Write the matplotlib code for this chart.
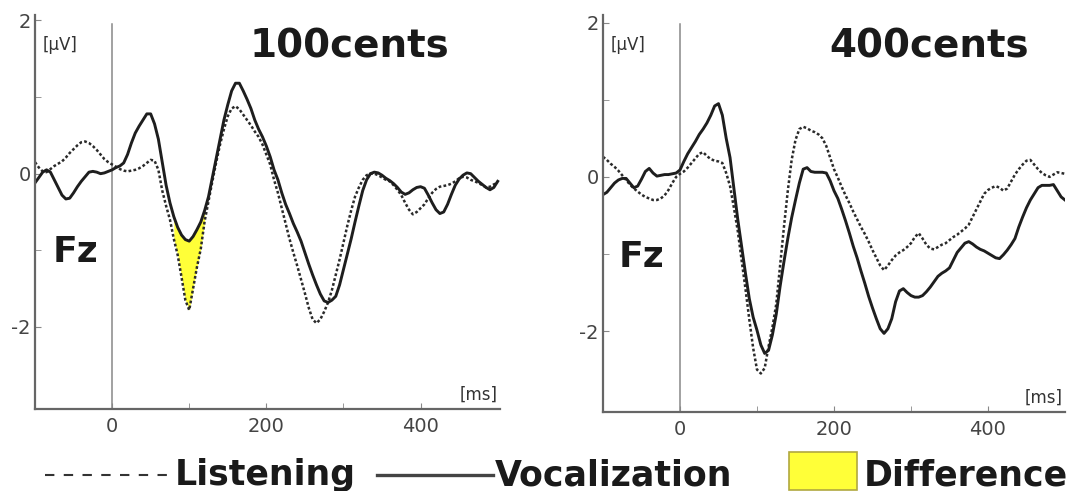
import numpy as np
import matplotlib
matplotlib.use("Agg")
import matplotlib.pyplot as plt
from matplotlib.lines import Line2D
from matplotlib.patches import Rectangle

plt.rcParams["axes.unicode_minus"] = False

# time axis in ms (5 ms steps), shared by all four traces
t = np.arange(-100, 505, 5)

# 100 cents condition, Fz, values in microvolts
lis_100 = [0.15, 0.08, 0.03, 0.02, 0.06, 0.10, 0.13, 0.16, 0.21, 0.27,
           0.32, 0.37, 0.41, 0.42, 0.40, 0.36, 0.31, 0.25, 0.19, 0.15,
           0.12, 0.09, 0.06, 0.04, 0.03, 0.04, 0.05, 0.07, 0.10, 0.14,
           0.18, 0.17, 0.05, -0.22, -0.42, -0.60, -0.85, -1.06, -1.35, -1.65,
           -1.78, -1.50, -1.22, -0.98, -0.62, -0.36, -0.10, 0.15, 0.38, 0.58,
           0.75, 0.85, 0.88, 0.84, 0.77, 0.70, 0.63, 0.55, 0.48, 0.38,
           0.25, 0.12, -0.08, -0.25, -0.45, -0.65, -0.85, -1.03, -1.20, -1.38,
           -1.56, -1.75, -1.90, -1.95, -1.90, -1.80, -1.68, -1.52, -1.32, -1.12,
           -0.90, -0.68, -0.48, -0.30, -0.18, -0.08, -0.02, 0.00, 0.00, -0.02,
           -0.05, -0.08, -0.10, -0.15, -0.21, -0.28, -0.38, -0.47, -0.53, -0.50,
           -0.45, -0.40, -0.32, -0.25, -0.20, -0.17, -0.16, -0.15, -0.13, -0.10,
           -0.06, -0.04, -0.05, -0.08, -0.10, -0.12, -0.15, -0.18, -0.17, -0.14,
           -0.12]
voc_100 = [-0.12, -0.05, 0.02, 0.05, 0.02, -0.08, -0.18, -0.28, -0.33, -0.32,
           -0.25, -0.17, -0.10, -0.04, 0.02, 0.03, 0.02, 0.00, 0.01, 0.03,
           0.05, 0.08, 0.10, 0.14, 0.25, 0.40, 0.53, 0.62, 0.70, 0.78,
           0.78, 0.65, 0.45, 0.15, -0.15, -0.38, -0.56, -0.70, -0.80, -0.86,
           -0.88, -0.82, -0.73, -0.63, -0.48, -0.30, -0.05, 0.20, 0.45, 0.70,
           0.90, 1.08, 1.18, 1.18, 1.08, 0.97, 0.85, 0.70, 0.58, 0.48,
           0.36, 0.22, 0.05, -0.08, -0.25, -0.40, -0.52, -0.65, -0.76, -0.88,
           -1.03, -1.18, -1.32, -1.45, -1.57, -1.66, -1.68, -1.65, -1.60, -1.45,
           -1.25, -1.05, -0.85, -0.63, -0.42, -0.22, -0.08, 0.00, 0.02, 0.01,
           -0.02, -0.06, -0.09, -0.13, -0.18, -0.24, -0.27, -0.25, -0.21, -0.18,
           -0.17, -0.19, -0.28, -0.38, -0.47, -0.52, -0.50, -0.40, -0.27, -0.15,
           -0.07, -0.02, 0.01, 0.00, -0.05, -0.10, -0.14, -0.18, -0.21, -0.18,
           -0.10]

# 400 cents condition, Fz
lis_400 = [0.26, 0.22, 0.17, 0.13, 0.08, 0.02, -0.04, -0.10, -0.15, -0.19,
           -0.23, -0.26, -0.28, -0.30, -0.30, -0.28, -0.24, -0.17, -0.08, 0.00,
           0.04, 0.07, 0.12, 0.18, 0.24, 0.30, 0.32, 0.27, 0.23, 0.21,
           0.20, 0.18, 0.05, -0.12, -0.40, -0.70, -1.08, -1.45, -1.85, -2.22,
           -2.50, -2.55, -2.48, -2.20, -1.95, -1.65, -1.15, -0.65, -0.18, 0.22,
           0.48, 0.62, 0.65, 0.63, 0.60, 0.58, 0.55, 0.50, 0.40, 0.25,
           0.10, -0.01, -0.13, -0.24, -0.34, -0.45, -0.55, -0.65, -0.74, -0.84,
           -0.95, -1.05, -1.15, -1.21, -1.15, -1.08, -1.02, -0.98, -0.95, -0.91,
           -0.86, -0.78, -0.73, -0.80, -0.88, -0.93, -0.94, -0.91, -0.88, -0.86,
           -0.82, -0.78, -0.75, -0.71, -0.67, -0.62, -0.52, -0.42, -0.32, -0.22,
           -0.17, -0.14, -0.12, -0.14, -0.18, -0.15, -0.06, 0.03, 0.10, 0.16,
           0.21, 0.22, 0.16, 0.10, 0.05, 0.02, 0.00, 0.03, 0.06, 0.05,
           0.04]
voc_400 = [-0.23, -0.20, -0.14, -0.08, -0.04, -0.02, -0.02, -0.08, -0.14, -0.12,
           -0.03, 0.07, 0.11, 0.05, 0.01, 0.02, 0.03, 0.03, 0.04, 0.05,
           0.09, 0.20, 0.30, 0.38, 0.46, 0.55, 0.62, 0.70, 0.80, 0.92,
           0.95, 0.80, 0.50, 0.25, -0.15, -0.55, -0.90, -1.25, -1.58, -1.82,
           -1.99, -2.18, -2.29, -2.25, -2.05, -1.78, -1.42, -1.10, -0.80, -0.53,
           -0.30, -0.08, 0.10, 0.12, 0.07, 0.06, 0.06, 0.06, 0.05, -0.05,
           -0.18, -0.28, -0.42, -0.57, -0.73, -0.90, -1.05, -1.22, -1.38, -1.55,
           -1.70, -1.84, -1.97, -2.03, -1.97, -1.84, -1.62, -1.48, -1.45, -1.50,
           -1.54, -1.56, -1.56, -1.54, -1.49, -1.43, -1.36, -1.29, -1.25, -1.22,
           -1.18, -1.08, -0.98, -0.92, -0.86, -0.84, -0.87, -0.91, -0.94, -0.96,
           -0.99, -1.02, -1.05, -1.06, -1.01, -0.95, -0.88, -0.80, -0.65, -0.52,
           -0.40, -0.30, -0.22, -0.14, -0.11, -0.11, -0.11, -0.10, -0.18, -0.26,
           -0.30]

# time window where the listening/vocalization difference is shaded
diff_window = (80, 120)

panels = [
    ("100cents", lis_100, voc_100, True, (-100, 503), (-3.07, 2.07)),
    ("400cents", lis_400, voc_400, False, (-100, 500), (-3.05, 2.10)),
]

W, H = 1088, 491
fig = plt.figure(figsize=(W / 100, H / 100), dpi=100)

# axes boxes in pixels: left, right, top, bottom
boxes = [(35, 500, 15, 409), (603, 1065, 15, 412)]
title_x = [349, 929]
fz_pos = [(75, 262), (641, 267)]

spine_col = "#666666"
bold = dict(family="DejaVu Sans", weight="bold", color="#1a1a1a")

for (title, lis, voc, shade, xlim, ylim), (l, r, tp, b), tx, fz in zip(
        panels, boxes, title_x, fz_pos):
    ax = fig.add_axes([l / W, 1 - b / H, (r - l) / W, (b - tp) / H])
    ax.set_xlim(*xlim)
    ax.set_ylim(*ylim)

    # traces
    ax.plot(t, lis, color="#2a2a2a", lw=1.8, linestyle=(0, (1.1, 0.9)))
    ax.plot(t, voc, color="#1e1e1e", lw=2.1)
    if shade:
        lis_a = np.array(lis)
        voc_a = np.array(voc)
        win = (t >= diff_window[0]) & (t <= diff_window[1])
        ax.fill_between(t, lis_a, voc_a, where=win, color="#ffff38", lw=0, zorder=1)

    # stimulus onset marker
    ax.axvline(0, ymax=0.977, color="#888888", lw=1.1, zorder=0)

    # axes styling
    for s in ["top", "right"]:
        ax.spines[s].set_visible(False)
    for s in ["left", "bottom"]:
        ax.spines[s].set_color(spine_col)
        ax.spines[s].set_linewidth(1.6)
    ax.set_xticks([0, 200, 400])
    ax.set_xticks([100, 300], minor=True)
    ax.set_yticks([-2, 0, 2])
    ax.set_yticks([-1, 1], minor=True)
    ax.tick_params(which="both", direction="in", length=4, color="#888888",
                   labelsize=14, labelcolor="#444444")
    ax.tick_params(axis="x", pad=6)
    ax.tick_params(axis="y", pad=3)

    ax.text(0.016, 0.925, "[\u00b5V]", transform=ax.transAxes, fontsize=12,
            color="#333333", va="center", ha="left")
    ax.text(0.995, 0.035, "[ms]", transform=ax.transAxes, fontsize=12,
            color="#333333", va="center", ha="right")

    fig.text(tx / W, 1 - 57 / H, title, ha="center", va="baseline",
             fontsize=28, **bold)
    fig.text(fz[0] / W, 1 - fz[1] / H, "Fz", ha="center", va="baseline",
             fontsize=26, **bold)

# legend drawn by hand along the bottom edge
ly = 1 - 475 / H
fig.add_artist(Line2D([45 / W, 170 / W], [ly, ly], color="#333333", lw=1.5,
                      linestyle=(0, (4.5, 4.5)), transform=fig.transFigure))
fig.text(175 / W, 1 - 485 / H, "Listening", ha="left", va="baseline",
         fontsize=25, **bold)
fig.add_artist(Line2D([377 / W, 493 / W], [ly, ly], color="#444444", lw=2.4,
                      transform=fig.transFigure))
fig.text(495 / W, 1 - 485 / H, "Vocalization", ha="left", va="baseline",
         fontsize=25, **bold)
fig.add_artist(Rectangle((789 / W, 1 - 490 / H), 68 / W, 38 / H,
                         facecolor="#ffff38", edgecolor="#b0a840", lw=1.2,
                         transform=fig.transFigure))
fig.text(864 / W, 1 - 485 / H, "Difference", ha="left", va="baseline",
         fontsize=25, **bold)

fig.savefig("out.png", dpi=100)
